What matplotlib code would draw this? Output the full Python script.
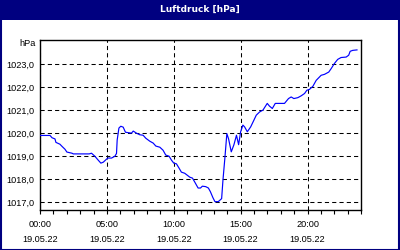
import matplotlib
matplotlib.use("Agg")
import matplotlib.pyplot as plt
from matplotlib.patches import Rectangle

title = "Luftdruck [hPa]"
unit = "hPa"
date_label = "19.05.22"
tick_hours = [0, 5, 10, 15, 20]
tick_times = ["00:00", "05:00", "10:00", "15:00", "20:00"]
y_ticks = [1017, 1018, 1019, 1020, 1021, 1022, 1023]

hours = [0.0, 0.75, 0.9, 1.12, 1.19, 1.49, 1.64, 1.87, 2.01, 2.39, 2.49, 3.68, 3.85,
         4.1, 4.35, 4.55, 4.73, 4.97, 5.07, 5.35, 5.6, 5.72, 5.77, 5.9, 6.04, 6.22,
         6.39, 6.84, 6.97, 7.21, 7.46, 7.71, 7.91, 8.21, 8.46, 8.66, 8.96, 9.2, 9.4,
         9.65, 9.83, 10.0, 10.2, 10.4, 10.57, 10.82, 11.0, 11.2, 11.4, 11.57, 11.82,
         12.0, 12.14, 12.39, 12.59, 12.74, 12.93, 13.08, 13.33, 13.58, 13.68, 13.83,
         13.97, 14.1, 14.3, 14.5, 14.69, 14.85, 15.0, 15.17, 15.3, 15.5, 15.75, 15.99,
         16.17, 16.42, 16.67, 16.99, 17.16, 17.37, 17.59, 18.28, 18.58, 18.78, 18.98,
         19.28, 19.53, 19.78, 19.95, 20.15, 20.4, 20.65, 21.02, 21.27, 21.59, 21.77,
         22.01, 22.26, 22.51, 22.89, 23.08, 23.19, 23.38, 23.7]
pressure = [1019.9, 1019.9, 1019.8, 1019.75, 1019.6, 1019.52, 1019.43, 1019.3, 1019.18,
            1019.13, 1019.1, 1019.1, 1019.13, 1019.0, 1018.83, 1018.7, 1018.74, 1018.87,
            1018.92, 1018.92, 1019.0, 1019.12, 1019.7, 1020.22, 1020.3, 1020.26, 1020.04,
            1020.0, 1020.09, 1020.0, 1019.93, 1019.91, 1019.78, 1019.65, 1019.57, 1019.44,
            1019.39, 1019.26, 1019.05, 1019.0, 1018.83, 1018.7, 1018.67, 1018.48, 1018.31,
            1018.26, 1018.18, 1018.09, 1018.05, 1017.88, 1017.62, 1017.62, 1017.7, 1017.68,
            1017.62, 1017.46, 1017.2, 1017.03, 1017.03, 1017.16, 1017.97, 1018.97, 1019.98,
            1019.75, 1019.19, 1019.5, 1019.91, 1019.5, 1020.06, 1020.35, 1020.27, 1020.06,
            1020.27, 1020.56, 1020.78, 1020.92, 1021.0, 1021.29, 1021.17, 1021.07, 1021.29,
            1021.29, 1021.5, 1021.57, 1021.5, 1021.54, 1021.62, 1021.72, 1021.86, 1021.9,
            1022.03, 1022.29, 1022.51, 1022.55, 1022.65, 1022.8, 1023.02, 1023.2, 1023.28,
            1023.3, 1023.38, 1023.55, 1023.59, 1023.61]

W, H = 400, 250
fig = plt.figure(figsize=(W / 100, H / 100), dpi=100)
fig.patch.set_facecolor("white")
navy = "#000080"

# title bar and border
fig.add_artist(Rectangle((0, (H - 20) / H), 1, 20 / H, transform=fig.transFigure,
                         facecolor=navy, edgecolor="none", zorder=0))
fig.add_artist(Rectangle((0.5 / W, 0.5 / H), (W - 1.5) / W, (H - 1.5) / H,
                         transform=fig.transFigure, facecolor="none",
                         edgecolor=navy, linewidth=1.5, zorder=5))
fig.text(0.5, (H - 9.5) / H, title, color="white", fontsize=6.5, fontweight="bold",
         family="DejaVu Sans", ha="center", va="center")

ax = fig.add_axes([40 / W, 40 / H, 321 / W, 170 / H])
ax.plot(hours, pressure, color="#0000ff", linewidth=0.85, zorder=3)
ax.set_xlim(0, 24)
ax.set_ylim(1016.667, 1024.04)

fnt = dict(family="Liberation Sans", fontsize=6.6)
ax.set_xticks(tick_hours)
ax.set_xticklabels([f"{t}\n{date_label}" for t in tick_times], linespacing=1.75, **fnt)
ax.set_xticks(range(0, 25), minor=True)
ax.set_yticks(y_ticks)
ax.set_yticklabels([f"{v:.1f}".replace(".", ",") for v in y_ticks], **fnt)
ax.tick_params(axis="x", which="both", direction="out", length=3, width=0.8, pad=4.5)
ax.tick_params(axis="y", which="both", length=0, pad=4)
ax.grid(True, which="major", color="black", linestyle=(0, (4, 3)), linewidth=0.75)
for s in ax.spines.values():
    s.set_linewidth(1.0)
    s.set_color("black")
ax.text(-4 / 321, 1 - 4 / 170, unit, transform=ax.transAxes, ha="right", va="center", **fnt)

fig.savefig("out.png", dpi=100)
